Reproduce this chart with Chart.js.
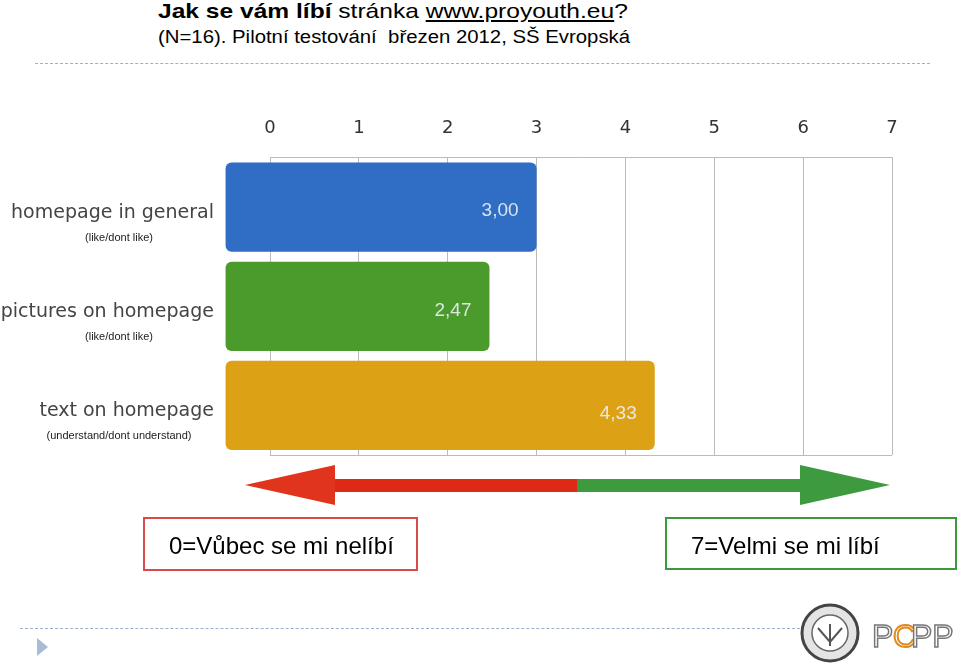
<!DOCTYPE html>
<html>
<head>
<meta charset="utf-8">
<script src="https://cdn.jsdelivr.net/npm/chart.js@4/dist/chart.umd.min.js"></script>
<style>
    body { margin: 0; background: #fff; font-family: "Liberation Sans", Arial, sans-serif; }
    #page { position: relative; width: 960px; height: 663px; overflow: hidden; }
    #chartBox { position: absolute; left: 0; top: 0; width: 960px; height: 663px; }
    .title { position: absolute; left: 158px; top: -1px; font-size: 21px; color: #000; white-space: nowrap; transform: scaleX(1.17); transform-origin: 0 0; }
    .title u { text-decoration: underline; }
    .subtitle { position: absolute; left: 158px; top: 27px; font-size: 18px; color: #000; white-space: pre; transform: scaleX(1.13); transform-origin: 0 0; }
    .dash { position: absolute; height: 0; border-top: 1px dashed #9fb0c6; }
    .box { position: absolute; font-size: 24px; color: #000; text-align: left; padding-left: 24px; box-sizing: border-box; white-space: nowrap; }
    #arrows { position: absolute; left: 0; top: 0; }
</style>
</head>
<body>
<div id="page">
    <div class="title"><b>Jak se vám líbí</b> stránka <u>www.proyouth.eu</u>?</div>
    <div class="subtitle">(N=16). Pilotní testování  březen 2012, SŠ Evropská</div>
    <div class="dash" style="left:35px; top:63px; width:895px;"></div>
    <div class="dash" style="left:20px; top:628px; width:780px;"></div>

    <div id="chartBox"><canvas id="statisticsChart"></canvas></div>

    <svg id="arrows" width="960" height="663">
        <rect x="330" y="479" width="247" height="13" fill="#dc2a14"></rect>
        <polygon points="245,485 335,465 335,505" fill="#e0341c"></polygon>
        <rect x="577" y="479" width="225" height="13" fill="#3d9a3f"></rect>
        <polygon points="890,485 800,465 800,505" fill="#3d9a3f"></polygon>
        <polygon points="37,638 48,647 37,656" fill="#a9bcd6"></polygon>
        <circle cx="830" cy="633" r="28" fill="#e4e4e4" stroke="#444" stroke-width="3"></circle>
        <circle cx="830" cy="633" r="18" fill="#fff" stroke="#666" stroke-width="1.5"></circle>
        <path d="M818,628 L830,642 L842,628 M830,624 L830,646" stroke="#555" stroke-width="2" fill="none"></path>
        <text x="872" y="647" font-family="Liberation Sans" font-size="32" fill="#fff" stroke="#777" stroke-width="1.5">P</text>
        <text x="893" y="647" font-family="Liberation Sans" font-size="32" fill="#fff" stroke="#e08a20" stroke-width="2">C</text>
        <text x="911" y="647" font-family="Liberation Sans" font-size="32" fill="#fff" stroke="#777" stroke-width="1.5">PP</text>
    </svg>

    <div class="box" style="left:143px; top:517px; width:275px; height:54px; line-height:54px; border:2px solid #d94a4a;">0=Vůbec se mi nelíbí</div>
    <div class="box" style="left:665px; top:517px; width:292px; height:53px; line-height:53px; border:2px solid #3a9a3a;">7=Velmi se mi líbí</div>
</div>

<script>
var categories = ['homepage in general', 'pictures on homepage', 'text on homepage'];
var subLabels = ['(like/dont like)', '(like/dont like)', '(understand/dont understand)'];
var scores = [3.00, 2.47, 4.33];
var scoreLabels = ['3,00', '2,47', '4,33'];
var tickLabels = ['0', '1', '2', '3', '4', '5', '6', '7'];
var barColors = ['#2f6ec4', '#4b9b2c', '#dca114'];

// labels left of the bars and values inside them
var labelPlugin = {
    id: 'labelPlugin',
    beforeDatasetsDraw: function (chart) {
        var ctx = chart.ctx;
        var area = chart.chartArea;
        ctx.save();
        ctx.strokeStyle = '#bbbbbb';
        ctx.lineWidth = 1;
        ctx.beginPath();
        ctx.moveTo(area.left, Math.round(area.bottom) + 0.5);
        ctx.lineTo(area.right, Math.round(area.bottom) + 0.5);
        ctx.stroke();
        ctx.restore();
    },
    afterDatasetsDraw: function (chart) {
        var ctx = chart.ctx;
        var meta = chart.getDatasetMeta(0);
        ctx.save();
        meta.data.forEach(function (bar, i) {
            var y = bar.y;
            ctx.textBaseline = 'middle';
            ctx.fillStyle = '#444';
            ctx.font = '19px "DejaVu Sans"';
            ctx.textAlign = 'right';
            ctx.fillText(categories[i], 214, y + 6);
            ctx.fillStyle = '#222';
            ctx.font = '11px "Liberation Sans"';
            ctx.textAlign = 'center';
            ctx.fillText(subLabels[i], 119, y + 31);
            ctx.fillStyle = 'rgba(235,240,245,0.9)';
            ctx.font = '19px "Liberation Sans"';
            ctx.textAlign = 'right';
            ctx.fillText(scoreLabels[i], bar.x - 18, y + (i === 2 ? 8 : 4));
        });
        ctx.restore();
    }
};

function initChart() {
    var ctx = document.getElementById('statisticsChart').getContext('2d');
    new Chart(ctx, {
        type: 'bar',
        data: {
            labels: categories,
            datasets: [{
                data: scores,
                base: -0.5,
                clip: false,
                backgroundColor: barColors,
                borderRadius: 6,
                borderSkipped: false,
                barPercentage: 0.9,
                categoryPercentage: 1
            }]
        },
        options: {
            indexAxis: 'y',
            responsive: true,
            maintainAspectRatio: false,
            animation: false,
            layout: {
                padding: { left: 270, right: 68, top: 100, bottom: 208 }
            },
            plugins: {
                legend: { display: false },
                tooltip: { enabled: false }
            },
            scales: {
                x: {
                    position: 'top',
                    min: 0,
                    max: 7,
                    ticks: {
                        stepSize: 1,
                        padding: 18,
                        color: '#333',
                        font: { family: 'DejaVu Sans', size: 18 },
                        callback: function (value, index) { return tickLabels[index]; }
                    },
                    grid: { color: '#bbbbbb', drawTicks: false },
                    border: { color: '#bbbbbb' }
                },
                y: {
                    display: false
                }
            }
        },
        plugins: [labelPlugin]
    });
}

initChart();
</script>
</body>
</html>
